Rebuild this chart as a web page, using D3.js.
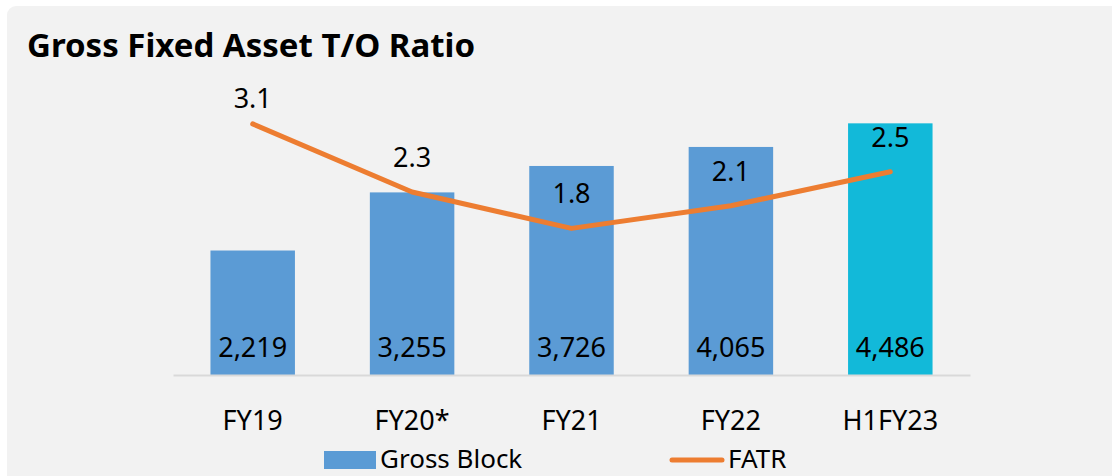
<!DOCTYPE html>
<html>
<head>
<meta charset="utf-8">
<script src="https://cdn.jsdelivr.net/npm/d3@7"></script>
<style>
  body { margin: 0; background: #fff; }
  svg { display: block; font-family: "Noto Sans", "Open Sans", sans-serif; }
</style>
</head>
<body>
<script>
// data
const periods = ["FY19", "FY20*", "FY21", "FY22", "H1FY23"];
const grossBlock = [2219, 3255, 3726, 4065, 4486];
const fatr = [3.1, 2.26, 1.81, 2.09, 2.51];

const width = 1112, height = 476;
const svg = d3.select("body").append("svg")
    .attr("width", width)
    .attr("height", height);

// gray panel
svg.append("rect")
    .attr("x", 7).attr("y", 6)
    .attr("width", width + 20).attr("height", height + 20)
    .attr("rx", 9)
    .attr("fill", "#f2f2f2");

svg.append("text")
    .attr("x", 27).attr("y", 57)
    .attr("font-size", 33)
    .attr("font-weight", "bold")
    .attr("fill", "#000")
    .text("Gross Fixed Asset T/O Ratio");

const base = 375;
const x = d3.scaleBand()
    .domain(periods)
    .range([173, 970])
    .paddingInner(0.47)
    .paddingOuter(0.235);

const y = d3.scaleLinear().domain([0, 5000]).range([base, 94.5]);
const y2 = d3.scaleLinear().domain([0, 3.5]).range([base, 91.5]);

// bars
svg.selectAll("rect.bar")
    .data(grossBlock)
    .enter()
    .append("rect")
    .attr("class", "bar")
    .attr("x", (d, i) => x(periods[i]))
    .attr("y", d => y(d))
    .attr("width", x.bandwidth())
    .attr("height", d => base - y(d))
    .attr("fill", (d, i) => i === periods.length - 1 ? "#12b9d9" : "#5b9bd5");

// category axis
const axis = svg.append("g")
    .attr("transform", "translate(0," + base + ")")
    .call(d3.axisBottom(x).tickSize(0).tickPadding(0));
axis.select(".domain").attr("stroke", "#d9d9d9").attr("stroke-width", 2);
axis.selectAll("text")
    .attr("dy", null)
    .attr("y", 55)
    .attr("font-size", 27)
    .attr("font-family", "Noto Sans")
    .attr("fill", "#000");

// bar value labels
svg.selectAll("text.barlab")
    .data(grossBlock)
    .enter()
    .append("text")
    .attr("class", "barlab")
    .attr("x", (d, i) => x(periods[i]) + x.bandwidth() / 2)
    .attr("y", 357)
    .attr("text-anchor", "middle")
    .attr("font-size", 27)
    .attr("fill", "#000")
    .text(d => d3.format(",")(d));

// FATR line
const line = d3.line()
    .x((d, i) => x(periods[i]) + x.bandwidth() / 2)
    .y(d => y2(d));

svg.append("path")
    .datum(fatr)
    .attr("d", line)
    .attr("fill", "none")
    .attr("stroke", "#ed7d31")
    .attr("stroke-width", 5)
    .attr("stroke-linecap", "round")
    .attr("stroke-linejoin", "round");

svg.selectAll("text.linelab")
    .data(fatr)
    .enter()
    .append("text")
    .attr("class", "linelab")
    .attr("x", (d, i) => x(periods[i]) + x.bandwidth() / 2)
    .attr("y", (d, i) => y2(d) - (i === 0 ? 16 : 25))
    .attr("text-anchor", "middle")
    .attr("font-size", 27)
    .attr("fill", "#000")
    .text(d => d3.format(".1f")(d));

// legend
const legend = svg.append("g");
legend.append("rect")
    .attr("x", 324).attr("y", 451)
    .attr("width", 52).attr("height", 18)
    .attr("fill", "#5b9bd5");
legend.append("text")
    .attr("x", 380).attr("y", 468)
    .attr("font-size", 26)
    .text("Gross Block");
legend.append("line")
    .attr("x1", 672).attr("x2", 722)
    .attr("y1", 460).attr("y2", 460)
    .attr("stroke", "#ed7d31")
    .attr("stroke-width", 5)
    .attr("stroke-linecap", "round");
legend.append("text")
    .attr("x", 728).attr("y", 468)
    .attr("font-size", 26)
    .text("FATR");
</script>
</body>
</html>
